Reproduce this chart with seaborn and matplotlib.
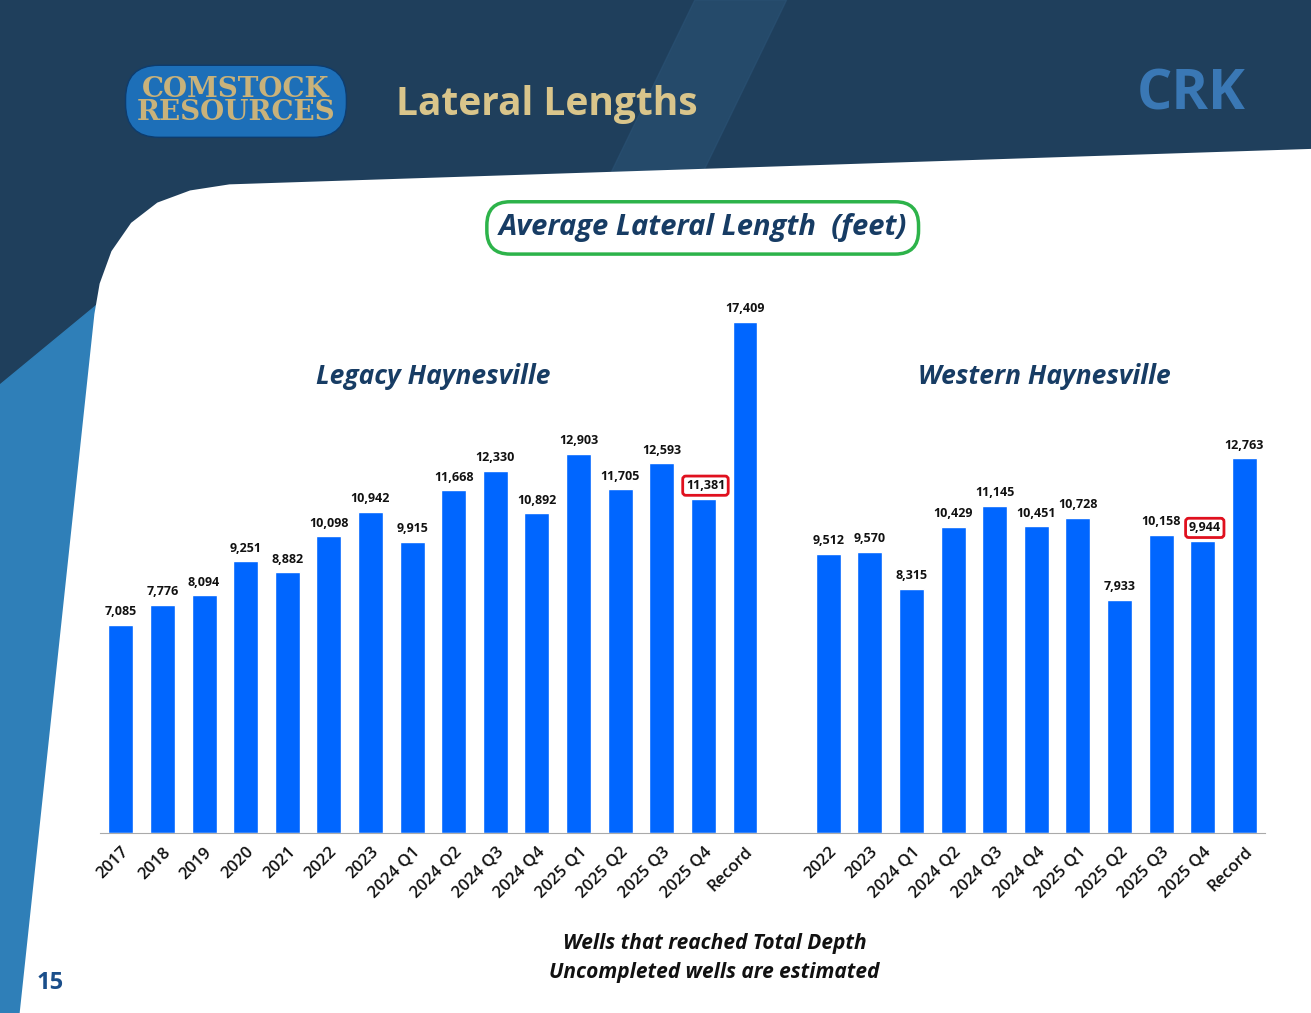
import matplotlib.pyplot as plt
import matplotlib.patches as mpatches
import seaborn as sns
import pandas as pd

legacy_labels = ["2017", "2018", "2019", "2020", "2021", "2022", "2023", "2024 Q1", "2024 Q2",
                 "2024 Q3", "2024 Q4", "2025 Q1", "2025 Q2", "2025 Q3", "2025 Q4", "Record"]
legacy_values = [7085, 7776, 8094, 9251, 8882, 10098, 10942, 9915, 11668,
                 12330, 10892, 12903, 11705, 12593, 11381, 17409]
western_labels = ["2022", "2023", "2024 Q1", "2024 Q2", "2024 Q3", "2024 Q4", "2025 Q1",
                  "2025 Q2", "2025 Q3", "2025 Q4", "Record"]
western_values = [9512, 9570, 8315, 10429, 11145, 10451, 10728, 7933, 10158, 9944, 12763]

keys = ["L" + s for s in legacy_labels] + ["gap"] + ["W" + s for s in western_labels]
df = pd.DataFrame({"key": ["L" + s for s in legacy_labels] + ["W" + s for s in western_labels],
                   "value": legacy_values + western_values})

sns.set_style("white")
plt.rcParams["font.family"] = ["Open Sans", "DejaVu Sans"]

fig = plt.figure(figsize=(13.11, 10.13), dpi=100)
fig.patch.set_facecolor("#1f3f5c")
# background bands
fig.patches.append(mpatches.Polygon([[0.53, 1], [0.6, 1], [0.45, 0.6], [0.38, 0.6]], closed=True,
                                    transform=fig.transFigure, color="#2a5275", alpha=0.6, zorder=0))
fig.patches.append(mpatches.Polygon([[0, 0], [0.02, 0], [0.075, 0.7], [0.0, 0.62]], closed=True,
                                    transform=fig.transFigure, color="#2f7fb8", zorder=0))
# white panel with curved upper-left corner
pts = [[0.015, 0], [0.072, 0.69], [0.076, 0.72], [0.085, 0.752], [0.1, 0.78], [0.12, 0.8],
       [0.145, 0.812], [0.175, 0.818], [1, 0.853], [1, 0]]
fig.patches.append(mpatches.Polygon(pts, closed=True, transform=fig.transFigure,
                                    facecolor="white", edgecolor="none", zorder=1))

# header
fig.text(0.18, 0.9, "COMSTOCK\nRESOURCES", ha="center", va="center", fontsize=20,
         fontweight="bold", color="#c9b27a", linespacing=0.8, family="DejaVu Serif",
         bbox=dict(boxstyle="round,pad=0.4,rounding_size=1.2", fc="#1d6fb8", ec="#0d3c6e"))
fig.text(0.302, 0.897, "Lateral Lengths", ha="left", va="center", fontsize=28,
         fontweight="bold", color="#d9c58b")
fig.text(0.95, 0.906, "CRK", ha="right", va="center", fontsize=40, fontweight="bold", color="#3a78b5")
fig.text(0.038, 0.03, "15", ha="center", va="center", fontsize=17, fontweight="bold", color="#1a4e8a")

fig.text(0.536, 0.775, "Average Lateral Length  (feet)", ha="center", va="center", fontsize=21,
         fontstyle="italic", fontweight="bold", color="#173c64",
         bbox=dict(boxstyle="round,pad=0.4,rounding_size=0.8", fc="white", ec="#2db34a", lw=2.5))

ax = fig.add_axes([0.0763, 0.1777, 0.8887, 0.522])
ax.set_facecolor("none")
ax.set_zorder(2)
sns.barplot(data=df, x="key", y="value", order=keys, color="#0066ff", width=0.6,
            saturation=1, ax=ax)
ax.set_xlim(-0.5, len(keys) - 0.5)
ax.set_ylim(0, 18000)
ax.set_yticks([])
ax.set_xlabel("")
ax.set_ylabel("")
for s in ["top", "right", "left"]:
    ax.spines[s].set_visible(False)
ax.spines["bottom"].set_color("#aaaaaa")
ax.set_xticks(range(len(keys)))
ax.set_xticklabels(legacy_labels + [""] + western_labels, rotation=45, ha="right",
                   rotation_mode="anchor", fontsize=12, fontweight="semibold", color="#111111")
ax.tick_params(axis="x", length=0, pad=8)

values = legacy_values + [None] + western_values
for i, v in enumerate(values):
    if v is None:
        continue
    boxed = keys[i] in ("L2025 Q4", "W2025 Q4")
    ax.text(i + (0.05 if boxed else 0), v + 220, f"{v:,}", ha="center", va="bottom",
            fontsize=9, fontweight="bold", color="#111111",
            bbox=dict(boxstyle="round,pad=0.25", fc="white", ec="#e0101e", lw=2) if boxed else None)

ax.text(7.5, 15300, "Legacy Haynesville", ha="center", fontsize=19, fontstyle="italic",
        fontweight="bold", color="#173c64")
ax.text(22.2, 15300, "Western Haynesville", ha="center", fontsize=19, fontstyle="italic",
        fontweight="bold", color="#173c64")

fig.text(0.545, 0.054, "Wells that reached Total Depth\nUncompleted wells are estimated",
         ha="center", va="center", fontsize=15, fontstyle="italic", fontweight="bold",
         color="#111111", linespacing=1.5)

fig.savefig("out.png", dpi=100, facecolor=fig.get_facecolor())
